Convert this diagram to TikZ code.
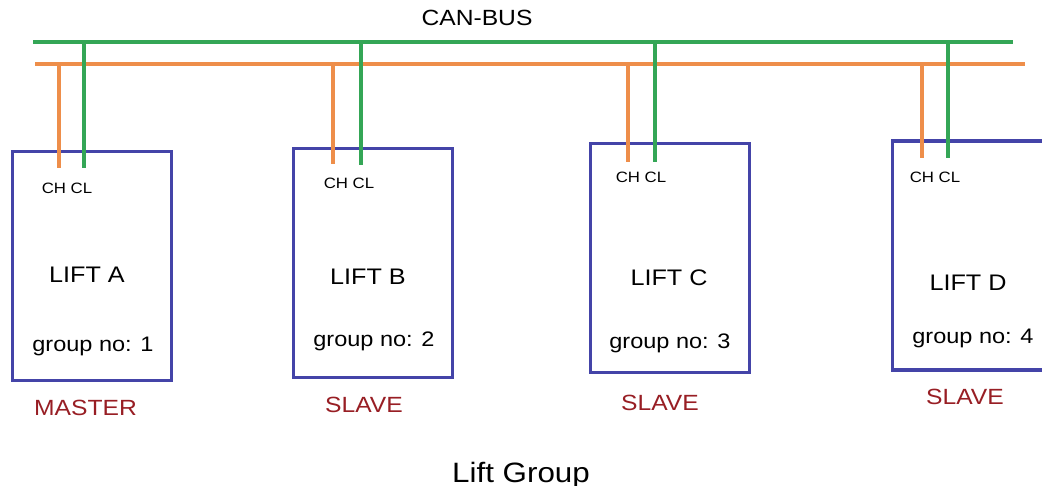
\documentclass[tikz,border=0pt]{standalone}
\usepackage{fontspec}
\setmainfont[FakeStretch=1.12]{Liberation Sans}
\begin{document}
\begin{tikzpicture}[x=1pt,y=-1pt,
  canh/.style={draw=busorange,line width=3.5pt},
  canl/.style={draw=busgreen,line width=3.5pt},
  liftbox/.style={draw=boxblue,line width=3.5pt,minimum width=159pt,minimum height=229pt,inner sep=0pt,outer sep=0pt},
  pins/.style={font=\fontsize{15}{15}\selectfont,anchor=base,inner sep=0pt},
  liftname/.style={font=\fontsize{22.5}{22.5}\selectfont,anchor=base,inner sep=0pt},
  grp/.style={font=\fontsize{21}{21}\selectfont,anchor=base,inner sep=0pt},
  role/.style={font=\fontsize{22}{22}\selectfont,text=rolered,anchor=base,inner sep=0pt},
  title/.style={anchor=base,inner sep=0pt}]
\definecolor{busgreen}{RGB}{52,166,86}
\definecolor{busorange}{RGB}{238,142,74}
\definecolor{boxblue}{RGB}{68,68,168}
\definecolor{rolered}{RGB}{152,30,36}
\clip (0,0) rectangle (1042,486);
\fill[white] (0,0) rectangle (1042,486);

% boxes
\node[liftbox] (A) at (92,266) {};
\node[liftbox] (B) at (373,263) {};
\node[liftbox] (C) at (670,258) {};
\node[liftbox] (D) at (972,255.5) {};

% bus lines
\coordinate (Gs) at (33,42);  \coordinate (Ge) at (1013,42);
\coordinate (Os) at (35,64);  \coordinate (Oe) at (1025,64);
\draw[canl] (Gs) -- (Ge);
\draw[canh] (Os) -- (Oe);

% taps
\coordinate (Aht) at (59,64);  \coordinate (Ahe) at (59,168);
\coordinate (Alt) at (84,42);  \coordinate (Ale) at (84,168);
\coordinate (Bht) at (333,64); \coordinate (Bhe) at (333,164);
\coordinate (Blt) at (361,42); \coordinate (Ble) at (361,165);
\coordinate (Cht) at (628,64); \coordinate (Che) at (628,162);
\coordinate (Clt) at (655,42); \coordinate (Cle) at (655,162);
\coordinate (Dht) at (922,64); \coordinate (Dhe) at (922,158);
\coordinate (Dlt) at (948,42); \coordinate (Dle) at (948,158);
\draw[canh] (Aht) -- (Ahe);
\draw[canl] (Alt) -- (Ale);
\draw[canh] (Bht) -- (Bhe);
\draw[canl] (Blt) -- (Ble);
\draw[canh] (Cht) -- (Che);
\draw[canl] (Clt) -- (Cle);
\draw[canh] (Dht) -- (Dhe);
\draw[canl] (Dlt) -- (Dle);

% title
\node[title,font=\fontsize{22}{22}\selectfont] (bus) at (477,26) {CAN-BUS};

% lift A
\node[pins] (Apins) at (67,194) {CH CL};
\node[liftname] (Aname) at (87,283) {LIFT A};
\node[grp] (Agrp) at (93,352) {group no: 1};
\node[role] (Arole) at (85.5,415) {MASTER};
% lift B
\node[pins] (Bpins) at (349,189) {CH CL};
\node[liftname] (Bname) at (368,285) {LIFT B};
\node[grp] (Bgrp) at (374,347) {group no: 2};
\node[role] (Brole) at (364,413) {SLAVE};
% lift C
\node[pins] (Cpins) at (641,183) {CH CL};
\node[liftname] (Cname) at (669,286) {LIFT C};
\node[grp] (Cgrp) at (670,349) {group no: 3};
\node[role] (Crole) at (660,410) {SLAVE};
% lift D
\node[pins] (Dpins) at (935,183) {CH CL};
\node[liftname] (Dname) at (968,291) {LIFT D};
\node[grp] (Dgrp) at (973,344) {group no: 4};
\node[role] (Drole) at (965,405) {SLAVE};

\node[title,font=\fontsize{28}{28}\selectfont] (caption) at (521,482) {Lift Group};
\end{tikzpicture}
\end{document}
